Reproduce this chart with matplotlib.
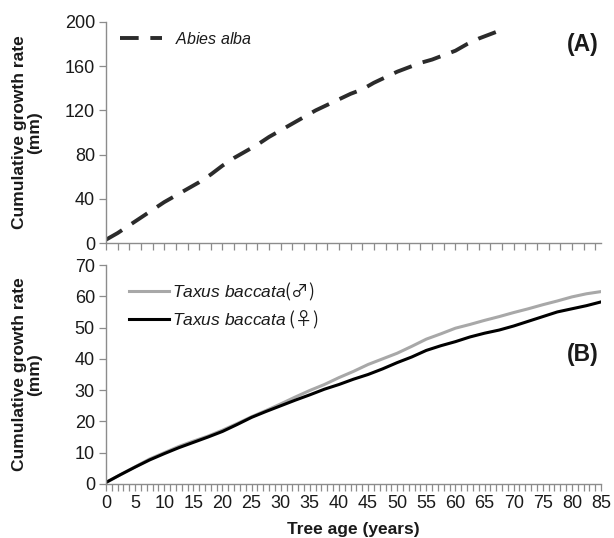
import matplotlib
matplotlib.use("Agg")
import matplotlib.pyplot as plt
from matplotlib.ticker import MultipleLocator

plt.rcParams['font.family'] = ['Liberation Sans', 'Noto Sans CJK SC', 'DejaVu Sans']
plt.rcParams['mathtext.fontset'] = 'custom'
plt.rcParams['mathtext.it'] = 'Liberation Sans:italic'
plt.rcParams['mathtext.rm'] = 'Liberation Sans'

# ---- data ----
abies_age = [0, 2, 4, 6, 8, 10, 12, 14, 16, 18, 20, 22, 24, 26, 28, 30, 32, 34,
             36, 38, 40, 42, 44, 46, 48, 50, 52, 54, 56, 58, 60, 62, 64, 66, 68]
abies_growth = [3, 9, 16, 23, 30, 37, 43, 49, 55, 62, 70, 77, 83, 89, 96, 102,
                108, 114, 120, 125, 130, 135, 139, 145, 150, 155, 159, 163, 166,
                170, 174, 180, 185, 189, 193]

taxus_age = [0, 2.5, 5, 7.5, 10, 12.5, 15, 17.5, 20, 22.5, 25, 27.5, 30, 32.5,
             35, 37.5, 40, 42.5, 45, 47.5, 50, 52.5, 55, 57.5, 60, 62.5, 65,
             67.5, 70, 72.5, 75, 77.5, 80, 82.5, 85]
taxus_male = [0.5, 3.0, 5.5, 8.0, 10.0, 12.0, 13.7, 15.3, 17.2, 19.3, 21.5, 23.5,
              25.6, 27.8, 29.9, 31.8, 34.0, 36.0, 38.2, 40.0, 41.8, 44.0, 46.3,
              48.0, 49.8, 51.0, 52.3, 53.5, 54.8, 56.0, 57.3, 58.5, 59.8, 60.8, 61.5]
taxus_female = [0.5, 3.0, 5.4, 7.7, 9.7, 11.6, 13.3, 15.0, 16.8, 19.0, 21.3, 23.2,
                25.0, 26.8, 28.5, 30.3, 31.8, 33.5, 35.0, 36.8, 38.8, 40.6, 42.7,
                44.2, 45.5, 47.0, 48.2, 49.2, 50.5, 52.0, 53.5, 55.0, 56.0, 57.0, 58.2]

x_ticks = list(range(0, 90, 5))
top_yticks = [0, 40, 80, 120, 160, 200]
bot_yticks = [0, 10, 20, 30, 40, 50, 60, 70]

W, H = 614, 538
fig = plt.figure(figsize=(W / 100, H / 100), dpi=100)
left = 106 / W
width = 495 / W
ax1 = fig.add_axes([left, 1 - 243 / H, width, (243 - 22) / H])
ax2 = fig.add_axes([left, 1 - 484 / H, width, (484 - 265) / H])

spine_c = '#8c8c8c'
txt_c = '#1a1a1a'

for ax in (ax1, ax2):
    for s in ('top', 'right'):
        ax.spines[s].set_visible(False)
    for s in ('left', 'bottom'):
        ax.spines[s].set_color(spine_c)
        ax.spines[s].set_linewidth(1.0)
    ax.set_xlim(0, 85)
    ax.tick_params(axis='both', colors=spine_c, labelcolor=txt_c, labelsize=13,
                   direction='out', length=5, width=0.9, pad=3)
    ax.tick_params(axis='x', which='minor', colors=spine_c, direction='out', length=5, width=0.9)
    ax.yaxis.set_label_coords(-0.13, 0.5)

# top panel
ax1.plot(abies_age, abies_growth, color='#2b2b2b', lw=2.8, ls=(0, (4.8, 3.0)),
         label=r'$\it{Abies\ alba}$', dash_capstyle='butt')
ax1.set_ylim(0, 200)
ax1.set_yticks(top_yticks)
ax1.set_xticks([])
ax1.xaxis.set_minor_locator(MultipleLocator(2))
ax1.tick_params(axis='x', which='minor', labelbottom=False)
ax1.set_ylabel('Cumulative growth rate\n(mm)', fontsize=12.5, fontweight='bold',
               color=txt_c, linespacing=1.0)
ax1.text(0.995, 0.95, '(A)', transform=ax1.transAxes, ha='right', va='top',
         fontsize=16.5, fontweight='bold', color=txt_c)
leg1 = ax1.legend(loc='upper left', frameon=False, prop={'size': 11.5},
                  bbox_to_anchor=(0.0, 1.025), handlelength=2.6, handletextpad=0.85)
for t in leg1.get_texts():
    t.set_color(txt_c)

# bottom panel
ax2.plot(taxus_age, taxus_male, color='#a8a8a8', lw=2.2,
         label=r'$\it{Taxus\ baccata}$(♂)')
ax2.plot(taxus_age, taxus_female, color='#000000', lw=2.2,
         label=r'$\it{Taxus\ baccata}$ (♀)')
ax2.set_ylim(0, 70)
ax2.set_yticks(bot_yticks)
ax2.set_xticks(x_ticks)
ax2.xaxis.set_minor_locator(MultipleLocator(1))
ax2.set_ylabel('Cumulative growth rate\n(mm)', fontsize=12.5, fontweight='bold',
               color=txt_c, linespacing=1.0)
ax2.set_xlabel('Tree age (years)', fontsize=12.5, fontweight='bold', color=txt_c,
               labelpad=7)
ax2.text(0.995, 0.59, '(B)', transform=ax2.transAxes, ha='right', va='center',
         fontsize=16.5, fontweight='bold', color=txt_c)
leg2 = ax2.legend(loc='upper left', frameon=False,
                  prop={'family': ['Noto Sans CJK SC', 'DejaVu Sans'], 'size': 12.5},
                  bbox_to_anchor=(0.015, 1.0), handlelength=2.3, handletextpad=0.15,
                  labelspacing=0.35)
for t in leg2.get_texts():
    t.set_color(txt_c)

fig.savefig('out.png', dpi=100)
